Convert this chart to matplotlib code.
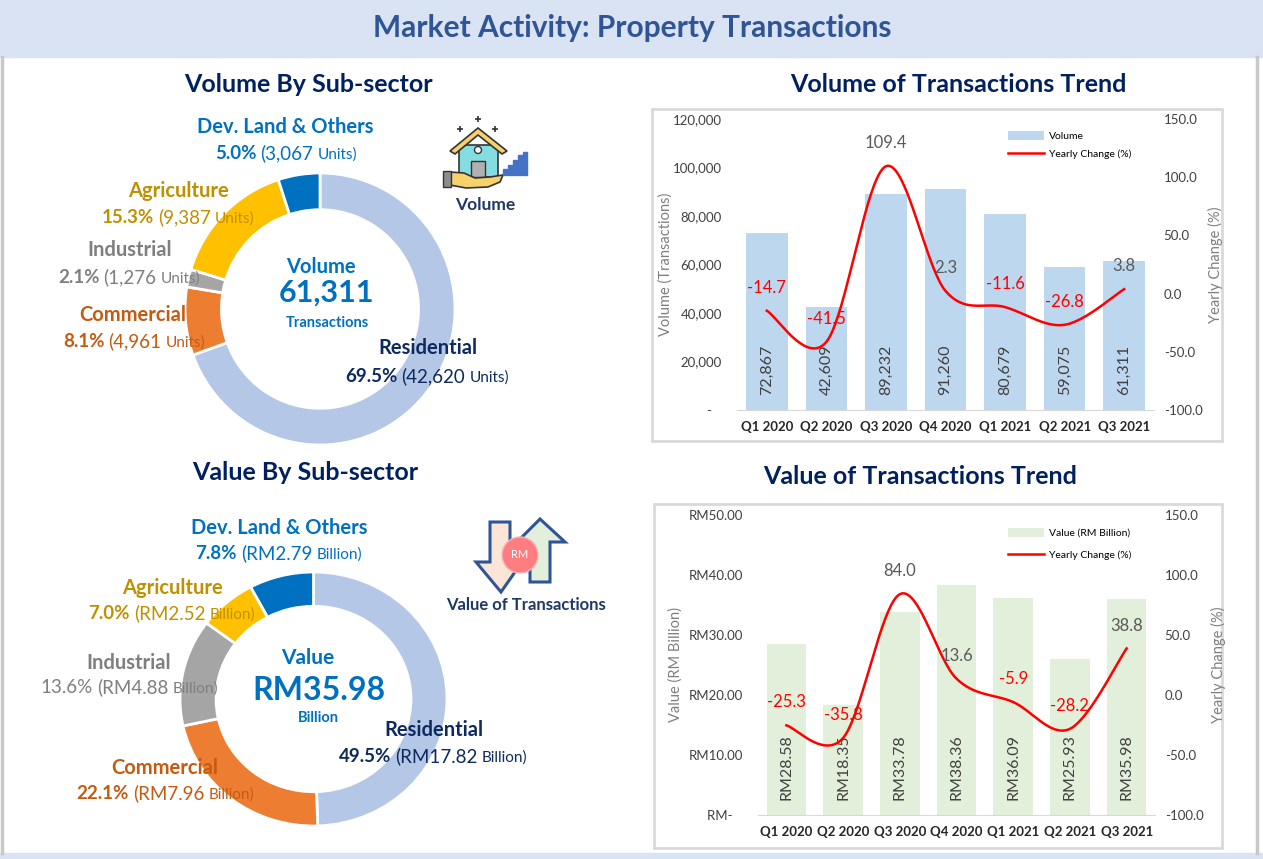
import numpy as np
import matplotlib
matplotlib.use("Agg")
import matplotlib.pyplot as plt
from matplotlib.patches import Rectangle, Polygon, Circle, Patch
from matplotlib.lines import Line2D
from matplotlib.offsetbox import TextArea, HPacker, AnnotationBbox
from matplotlib.ticker import FuncFormatter, MultipleLocator

plt.rcParams['font.family'] = ['Lato', 'DejaVu Sans']

W, H = 1263, 859

# ---- data ----
sectors = ['Residential', 'Commercial', 'Industrial', 'Agriculture', 'Dev. Land & Others']
sector_colors = ['#b4c7e7', '#ed7d31', '#a5a5a5', '#ffc000', '#0070c0']
label_colors = ['#0d2a5e', '#c55a11', '#7f7f7f', '#bf9000', '#0070c0']

vol_share = [69.5, 8.1, 2.1, 15.3, 5.0]
vol_units = [42620, 4961, 1276, 9387, 3067]
vol_total = 61311

val_share = [49.5, 22.1, 13.6, 7.0, 7.8]
val_rm_bn = [17.82, 7.96, 4.88, 2.52, 2.79]
val_total = 35.98

quarters = ['Q1 2020', 'Q2 2020', 'Q3 2020', 'Q4 2020', 'Q1 2021', 'Q2 2021', 'Q3 2021']
vol_trans = [72867, 42609, 89232, 91260, 80679, 59075, 61311]
vol_yoy = [-14.7, -41.5, 109.4, 2.3, -11.6, -26.8, 3.8]
val_bn = [28.58, 18.35, 33.78, 38.36, 36.09, 25.93, 35.98]
val_yoy = [-25.3, -35.8, 84.0, 13.6, -5.9, -28.2, 38.8]

# label placement (pixels): name centre, detail line centre
vol_label_pos = [((428, 348), (427, 376)), ((133, 315), (134, 341)), ((130, 250), (129, 277)),
                 ((178, 191), (178, 217)), ((285, 127), (286, 153))]
val_label_pos = [((434, 730), (433, 756)), ((165, 768), (165, 793)), ((129, 663), (129, 687)),
                 ((172, 588), (172, 613)), ((279, 528), (279, 553))]

NAVY = '#002060'


def rect(l, t, r, b):
    return [l / W, 1 - b / H, (r - l) / W, (b - t) / H]


fig = plt.figure(figsize=(W / 100, H / 100), dpi=100)
fig.patch.set_facecolor('white')

bg = fig.add_axes([0, 0, 1, 1], zorder=-5)
bg.set_xlim(0, W); bg.set_ylim(H, 0); bg.axis('off')
top = fig.add_axes([0, 0, 1, 1], zorder=20)
top.set_xlim(0, W); top.set_ylim(H, 0); top.axis('off')

# frame, title bar, chart boxes
bg.add_patch(Rectangle((0, 0), W, 57, color='#dae3f3'))
bg.add_patch(Rectangle((0, 853), W, 6, color='#dae3f3'))
bg.plot([1.5, 1.5], [57, 853], color='#c8c8c8', lw=2.5)
bg.plot([1257, 1257], [57, 853], color='#c8c8c8', lw=2.5)
bg.add_patch(Rectangle((652, 109), 570, 332, facecolor='white', edgecolor='#d9d9d9', lw=2))
bg.add_patch(Rectangle((654, 504), 568, 344, facecolor='white', edgecolor='#d9d9d9', lw=2))

top.text(632, 28, 'Market Activity: Property Transactions', ha='center', va='center',
         fontsize=21.5, fontweight='bold', color='#2f5597')
top.text(308, 85, 'Volume By Sub-sector', ha='center', va='center', fontsize=18, fontweight='bold', color=NAVY)
top.text(305, 472, 'Value By Sub-sector', ha='center', va='center', fontsize=18, fontweight='bold', color=NAVY)
top.text(958, 85, 'Volume of Transactions Trend', ha='center', va='center', fontsize=18, fontweight='bold', color=NAVY)
top.text(920, 477, 'Value of Transactions Trend', ha='center', va='center', fontsize=18, fontweight='bold', color=NAVY)


def donut(box, shares):
    ax = fig.add_axes(box, zorder=2)
    ax.pie(shares, colors=sector_colors, startangle=90, counterclock=False, radius=1,
           wedgeprops=dict(width=0.27, edgecolor='white', linewidth=2))
    ax.set_aspect('auto')
    ax.set_xlim(-1, 1); ax.set_ylim(-1, 1)
    return ax


def detail_line(x, y, pct, mid, unit, color, pct_bold=True, size=13.5):
    parts = [TextArea(pct, textprops=dict(color=color, fontsize=size,
                                          fontweight='bold' if pct_bold else 'normal')),
             TextArea(mid, textprops=dict(color=color, fontsize=size)),
             TextArea(unit, textprops=dict(color=color, fontsize=size - 2.5))]
    box = HPacker(children=parts, align='baseline', pad=0, sep=3)
    ab = AnnotationBbox(box, (x, y), xycoords='data', frameon=False, box_alignment=(0.5, 0.5), pad=0)
    top.add_artist(ab)


donut(rect(185, 173, 455, 445), vol_share)
for i, name in enumerate(sectors):
    (nx, ny), (dx, dy) = vol_label_pos[i]
    top.text(nx, ny, name, ha='center', va='center', fontsize=14.5, fontweight='bold', color=label_colors[i])
    detail_line(dx, dy, f'{vol_share[i]:.1f}%', f'({vol_units[i]:,}', 'Units)', label_colors[i])
top.text(321, 267, 'Volume', ha='center', va='center', fontsize=14.5, fontweight='bold', color='#0070c0')
top.text(327, 293, f'{vol_total:,}', ha='center', va='center', fontsize=22, fontweight='bold', color='#0070c0')
top.text(327, 323, 'Transactions', ha='center', va='center', fontsize=10.5, fontweight='bold', color='#0070c0')

donut(rect(180, 572, 447, 826), val_share)
for i, name in enumerate(sectors):
    (nx, ny), (dx, dy) = val_label_pos[i]
    top.text(nx, ny, name, ha='center', va='center', fontsize=14.5, fontweight='bold', color=label_colors[i])
    detail_line(dx, dy, f'{val_share[i]:.1f}%', f'(RM{val_rm_bn[i]:.2f}', 'Billion)', label_colors[i],
                pct_bold=(name != 'Industrial'))
top.text(308, 658, 'Value', ha='center', va='center', fontsize=15, fontweight='bold', color='#0070c0')
top.text(319, 690, f'RM{val_total:.2f}', ha='center', va='center', fontsize=23, fontweight='bold', color='#0070c0')
top.text(318, 718, 'Billion', ha='center', va='center', fontsize=10.5, fontweight='bold', color='#0070c0')

# ---- icons ----
ic = fig.add_axes(rect(430, 105, 550, 225), zorder=3)
ic.set_xlim(0, 120); ic.set_ylim(120, 0); ic.axis('off')
for sx, sy in [(48, 14), (30, 24), (65, 24)]:
    ic.plot(sx, sy, marker='+', color='#333333', ms=5, mew=1.2)
ic.add_patch(Rectangle((29, 40), 39, 32, facecolor='#84dde0', edgecolor='#333333', lw=1.2))
ic.add_patch(Polygon([(20, 46), (48, 23), (77, 46), (72, 49), (48, 30), (25, 49)], closed=True,
                     facecolor='#f7d26a', edgecolor='#333333', lw=1.2))
ic.add_patch(Circle((48, 45), 3.5, facecolor='white', edgecolor='#333333', lw=1))
ic.add_patch(Rectangle((41, 56), 14, 16, facecolor='#b0b0b0', edgecolor='#333333', lw=1))
ic.add_patch(Polygon([(20, 67), (34, 68), (45, 73), (60, 72), (73, 70), (70, 77), (58, 82), (36, 83), (20, 80)],
                     closed=True, facecolor='#f7d26a', edgecolor='#333333', lw=1.2))
ic.add_patch(Rectangle((13, 66), 8, 16, facecolor='#8c8c8c', edgecolor='#333333', lw=1))
for k, h in enumerate([6, 10, 15, 20, 23]):
    ic.add_patch(Rectangle((73 + k * 5, 70 - h), 3.5, h, color='#4472c4'))
top.text(485, 205, 'Volume', ha='center', va='center', fontsize=12.5, fontweight='bold', color='#1f3864',
         family=['Liberation Sans Narrow', 'Lato'])

iv = fig.add_axes(rect(440, 510, 610, 620), zorder=3)
iv.set_xlim(0, 170); iv.set_ylim(110, 0); iv.axis('off')
iv.add_patch(Polygon([(50, 12), (70, 12), (70, 52), (82, 52), (61, 82), (36, 52), (50, 52)], closed=True,
                     facecolor='#fbe5d6', edgecolor='#2f5597', lw=2.2))
iv.add_patch(Polygon([(90, 72), (110, 72), (110, 32), (125, 32), (100, 9), (77, 32), (90, 32)], closed=True,
                     facecolor='#e2efda', edgecolor='#2f5597', lw=2.2))
iv.add_patch(Circle((80, 45), 18, facecolor='#ff7c80', edgecolor='#f4b8b8', lw=1))
iv.text(80, 45, 'RM', ha='center', va='center', fontsize=8, color='white')
top.text(526, 605, 'Value of Transactions', ha='center', va='center', fontsize=12, fontweight='bold',
         color='#1f3864', family=['Liberation Sans Narrow', 'Lato'])


# ---- trend charts ----
def smooth(y, n=40):
    pts = np.column_stack([np.arange(len(y)), y]).astype(float)
    P = np.vstack([pts[0], pts, pts[-1]])
    segs = []
    t = np.linspace(0, 1, n)[:, None]
    for i in range(1, len(P) - 2):
        p0, p1, p2, p3 = P[i - 1], P[i], P[i + 1], P[i + 2]
        b1 = p1 + (p2 - p0) / 6
        b2 = p2 - (p3 - p1) / 6
        segs.append((1 - t) ** 3 * p1 + 3 * (1 - t) ** 2 * t * b1 + 3 * (1 - t) * t ** 2 * b2 + t ** 3 * p2)
    c = np.vstack(segs)
    return c[:, 0], c[:, 1]


def trend(box, bars, yoy, bar_color, ymax, ystep, left_fmt, bar_fmt, ylabel, bar_name, lab_x, leg_anchor, legsp):
    ax = fig.add_axes(box, zorder=5)
    ax.patch.set_alpha(0)
    x = np.arange(len(quarters))
    ax.bar(x, bars, width=0.7, color=bar_color, zorder=2)
    ax.set_xlim(-0.5, len(quarters) - 0.5)
    ax.set_ylim(0, ymax)
    ax.yaxis.set_major_locator(MultipleLocator(ystep))
    ax.yaxis.set_major_formatter(FuncFormatter(left_fmt))
    ax.set_xticks(x)
    ax.set_xticklabels(quarters, fontweight='bold', fontsize=9.5, color='#262626')
    for s in ['top', 'left', 'right']:
        ax.spines[s].set_visible(False)
    ax.spines['bottom'].set_color('#d9d9d9')
    ax.tick_params(axis='x', length=0, pad=8)
    ax.tick_params(axis='y', length=0, pad=11, labelsize=9.5, labelcolor='#404040')
    ax.set_ylabel(ylabel, fontsize=10.5, color='#7f7f7f')
    ax.yaxis.set_label_coords(lab_x[0], 0.5)
    for xi, v in zip(x, bars):
        ax.annotate(bar_fmt(v), (xi, 0), xytext=(0, 11), textcoords='offset points', rotation=90,
                    ha='center', va='bottom', fontsize=11.5, color='#404040', zorder=3)

    ax2 = ax.twinx()
    ax2.set_ylim(-100, 150)
    ax2.yaxis.set_major_locator(MultipleLocator(50))
    ax2.yaxis.set_major_formatter(FuncFormatter(lambda v, p: f'{v:.1f}'))
    for s in ax2.spines.values():
        s.set_visible(False)
    ax2.tick_params(axis='y', length=0, pad=7, labelsize=9.5, labelcolor='#404040')
    ax2.set_ylabel('Yearly Change (%)', fontsize=10.5, color='#7f7f7f', rotation=90)
    ax2.yaxis.set_label_coords(lab_x[1], 0.5)
    sx, sy = smooth(yoy)
    ax2.plot(sx, sy, color='#ff0000', lw=1.8, zorder=4)
    for xi, v in zip(x, yoy):
        ax2.annotate(f'{v:.1f}', (xi, v), xytext=(0, 16.5), textcoords='offset points', ha='center', va='center',
                     fontsize=12, color='#ff0000' if v < 0 else '#595959', zorder=5)

    handles = [Patch(facecolor=bar_color, edgecolor='none'), Line2D([], [], color='#ff0000', lw=1.8)]
    ax2.legend(handles, [bar_name, 'Yearly Change (%)'], loc='upper left', bbox_to_anchor=leg_anchor,
               bbox_transform=fig.transFigure, frameon=False, fontsize=7.5, handlelength=3.5,
               handleheight=0.9, borderpad=0, borderaxespad=0, labelspacing=legsp, handletextpad=0.4)
    return ax


trend(rect(737, 119, 1154, 410), vol_trans, vol_yoy, '#bdd7ee', 120000, 20000,
      lambda v, p: '-   ' if v == 0 else f'{v:,.0f}', lambda v: f'{v:,}',
      'Volume (Transactions)', 'Volume', (-0.155, 1.13), (1008 / W, 1 - 131 / H), 0.75)

trend(rect(758, 515, 1155, 815), val_bn, val_yoy, '#e2efda', 50, 10,
      lambda v, p: 'RM-   ' if v == 0 else f'RM{v:.2f}', lambda v: f'RM{v:.2f}',
      'Value (RM Billion)', 'Value (RM Billion)', (-0.19, 1.14), (1008 / W, 1 - 528 / H), 1.2)

fig.savefig('out.png', dpi=100)
